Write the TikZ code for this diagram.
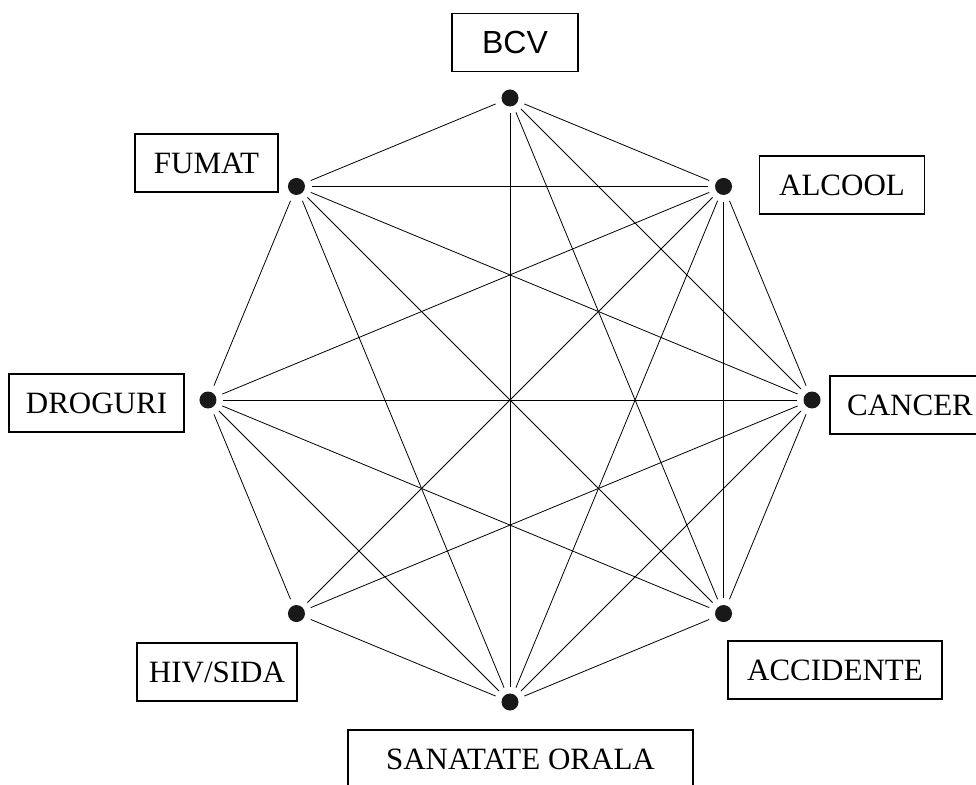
\documentclass[tikz,border=0pt]{standalone}
\usepackage{fontspec}
\setmainfont{Liberation Serif}
\setsansfont{Liberation Sans}
\usetikzlibrary{calc, positioning}
\def\radius{302}
\tikzstyle{dot}=[circle,fill=black!90,minimum size=17pt,inner sep=0pt,outer sep=7pt]
\tikzstyle{link}=[line width=0.8pt]
\tikzstyle{factor}=[draw,line width=1.6pt,minimum height=58pt,inner sep=0pt,font=\fontsize{31}{36}\selectfont]

\begin{document}
\begin{tikzpicture}[x=1pt,y=1pt]
			\useasboundingbox (-510,-384) rectangle (466,400);

			% Draw the eight dots of the octagon
			\foreach \name / \ang in {1/90,2/45,3/0,4/-45,5/-90,6/-135,7/180,8/135}
			\node[dot] (d-\name) at (\ang:\radius) {};

			% Connect the dots (not every pair is linked)
			\foreach \source / \dest in {1/2,1/3,1/4,1/5,1/8,
			                             2/3,2/4,2/5,2/6,2/7,2/8,
			                             3/4,3/5,3/6,3/7,3/8,
			                             4/5,4/7,4/8,
			                             5/6,5/7,5/8,
			                             6/7,7/8}
			\draw[link] (d-\source) -- (d-\dest);

			% Label the dots
			\node[factor,minimum width=126pt,font=\sffamily\fontsize{32}{36}\selectfont] (bcv) at (5,357.5) {BCV};
			\node[factor,minimum width=165pt] (alcool) at (332,215) {ALCOOL};
			\node[factor,minimum width=160pt] (cancer) at (400,-5) {CANCER};
			\node[factor,minimum width=214pt] (accidente) at (325,-270) {ACCIDENTE};
			\node[factor,minimum width=345pt] (sanatate) at (10.5,-359) {SANATATE ORALA};
			\node[factor,minimum width=160pt] (hiv) at (-293,-272) {HIV/SIDA};
			\node[factor,minimum width=175pt] (droguri) at (-413.5,-3) {DROGURI};
			\node[factor,minimum width=143pt] (fumat) at (-303.5,237) {FUMAT};
		\end{tikzpicture}
\end{document}
